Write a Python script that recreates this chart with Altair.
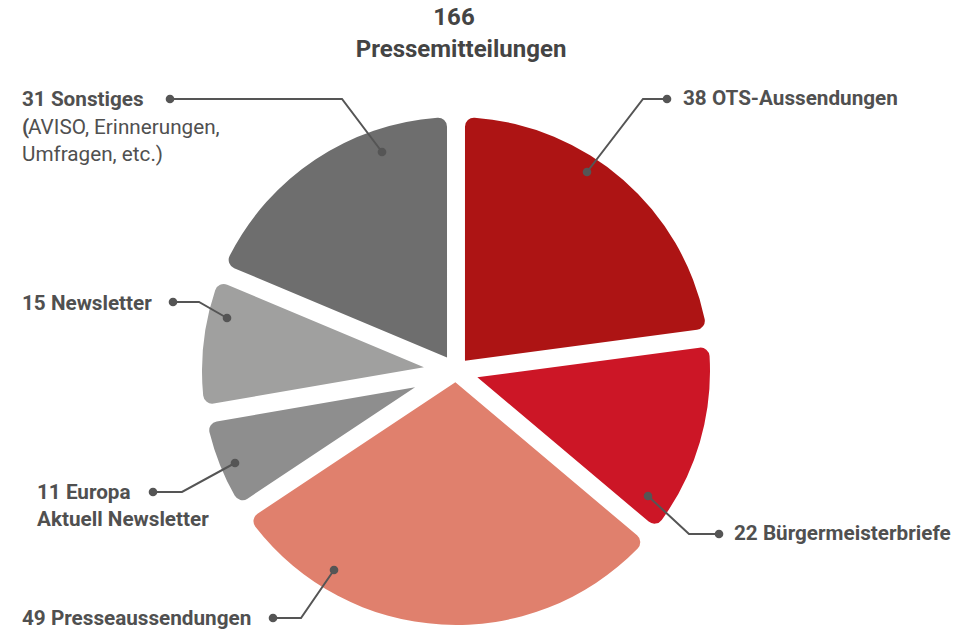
import math
import altair as alt
import pandas as pd

# ---------------- data ----------------
categories = ["OTS-Aussendungen", "Bürgermeisterbriefe", "Presseaussendungen",
              "Europa Aktuell Newsletter", "Newsletter", "Sonstiges"]
counts = [38, 22, 49, 11, 15, 31]
colors = ["#AD1414", "#CC1626", "#E0806D", "#8E8E8E", "#A0A09F", "#6E6E6E"]
total_label = "166"
title_label = "Pressemitteilungen"

# ---------------- layout (page pixel coordinates) ----------------
W, H = 961, 621
CX, CY, R = 456, 371, 254
GAP_HALF = 9
CORNER = 9
PAD = 2 * math.asin(GAP_HALF / math.hypot(R, 20))
S = math.sin(PAD / 2)
TXT = "#505050"
FONT = "Roboto"
LAB_SIZE = 20.7

# leader lines: inner dot, elbow, outer dot
leader_pts = {
    "OTS-Aussendungen": [(587, 172), (643, 99), (667, 99)],
    "Bürgermeisterbriefe": [(648, 496), (689, 534), (719, 534)],
    "Presseaussendungen": [(334, 570), (301, 618), (273, 618)],
    "Europa Aktuell Newsletter": [(235, 463), (182, 492), (153, 492)],
    "Newsletter": [(227, 318), (199, 302), (173, 302)],
    "Sonstiges": [(382, 152), (342, 99), (170, 99)],
}

label_rows = [
    # x, y, text, weight
    (683, 99, f"{counts[0]} OTS-Aussendungen", "bold"),
    (734, 534, f"{counts[1]} Bürgermeisterbriefe", "bold"),
    (22, 619, f"{counts[2]} Presseaussendungen", "bold"),
    (37, 493, f"{counts[3]} Europa", "bold"),
    (37, 520, "Aktuell Newsletter", "bold"),
    (22, 304, f"{counts[4]} Newsletter", "bold"),
    (22, 100, f"{counts[5]} Sonstiges", "bold"),
    (22, 128, "(", "bold"),
    (28, 128, "AVISO, Erinnerungen,", "normal"),
    (22, 155, "Umfragen, etc.)", "normal"),
]
title_rows = [(454, 18, total_label), (461, 50, title_label)]

# ---------------- tables ----------------
pie_df = pd.DataFrame({
    "idx": list(range(len(categories))),
    "category": categories,
    "count": counts,
})

line_rows = []
for cat, pts in leader_pts.items():
    for o, (px, py) in enumerate(pts):
        line_rows.append({"category": cat, "o": o, "px": px, "py": py, "dot": o != 1})
line_df = pd.DataFrame(line_rows)

lab_df = pd.DataFrame(label_rows, columns=["px", "py", "text", "weight"])
tit_df = pd.DataFrame(title_rows, columns=["px", "py", "text"])

xs = alt.Scale(domain=[8, 8 + W], range=[0, W])
ys = alt.Scale(domain=[8, 8 + H], range=[0, H])
X = lambda f: alt.X(f, scale=xs, axis=None)
Y = lambda f: alt.Y(f, scale=ys, axis=None)

# ---------------- pie ----------------
pie = alt.Chart(pie_df).transform_joinaggregate(
    total="sum(count)"
).transform_window(
    cum="sum(count)", sort=[alt.SortField("idx")], frame=[None, 0]
).transform_calculate(
    a1="datum.cum / datum.total * 2 * PI",
    a0="(datum.cum - datum.count) / datum.total * 2 * PI",
).transform_calculate(
    k=f"{S} / sin((datum.a1 - datum.a0) / 2)",
).transform_calculate(
    r0=f"{R} * datum.k / sqrt(1 - datum.k * datum.k) * 0.999",
    r1=f"{R}",
).mark_arc(padAngle=PAD, cornerRadius=CORNER).encode(
    theta=alt.Theta("a0:Q", scale=None, stack=None),
    theta2=alt.Theta2("a1:Q"),
    radius=alt.Radius("r1:Q", scale=None),
    radius2=alt.Radius2("r0:Q"),
    color=alt.Color("category:N", scale=alt.Scale(domain=categories, range=colors), legend=None),
    x=alt.value(CX - 8),
    y=alt.value(CY - 8),
)

lines = alt.Chart(line_df).mark_line(color="#555555", strokeWidth=2).encode(
    x=X("px:Q"), y=Y("py:Q"), detail="category:N", order=alt.Order("o:Q")
)
dots = alt.Chart(line_df).transform_filter("datum.dot").mark_circle(
    color="#555555", opacity=1, size=75
).encode(x=X("px:Q"), y=Y("py:Q"))

bold_lab = alt.Chart(lab_df).transform_filter("datum.weight == 'bold'").mark_text(
    font=FONT, fontSize=LAB_SIZE, fontWeight="bold", color=TXT, align="left", baseline="middle"
).encode(x=X("px:Q"), y=Y("py:Q"), text="text:N")
norm_lab = alt.Chart(lab_df).transform_filter("datum.weight == 'normal'").mark_text(
    font=FONT, fontSize=LAB_SIZE, fontWeight="normal", color=TXT, align="left", baseline="middle"
).encode(x=X("px:Q"), y=Y("py:Q"), text="text:N")
titles = alt.Chart(tit_df).mark_text(
    font=FONT, fontSize=24, fontWeight="bold", color="#444444", align="center", baseline="middle"
).encode(x=X("px:Q"), y=Y("py:Q"), text="text:N")

chart = alt.layer(pie, lines, dots, bold_lab, norm_lab, titles).properties(
    width=W, height=H, padding=0, autosize=alt.AutoSizeParams(type="none")
).configure_view(stroke=None)

chart.save("out.html", embed_options={"renderer": "svg", "actions": False})
